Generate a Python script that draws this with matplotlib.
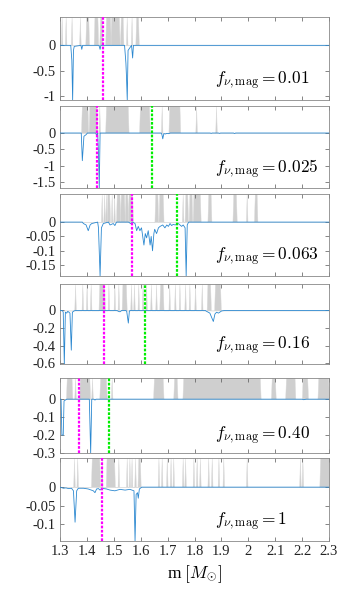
import numpy as np
import matplotlib
matplotlib.use('Agg')
import matplotlib.pyplot as plt

plt.rcParams['font.family'] = ['Liberation Serif', 'DejaVu Serif']
plt.rcParams['mathtext.fontset'] = 'cm'
plt.rcParams['axes.unicode_minus'] = False

# f_nu,mag value of each panel
f_labels = ['0.01', '0.025', '0.063', '0.16', '0.40', '1']

# blue curves: mass points and values
m_1 = [1.30, 1.340, 1.344, 1.347, 1.350, 1.353, 1.378, 1.381, 1.384, 1.445, 1.449, 1.452,
       1.540, 1.545, 1.547, 1.550, 1.553, 1.566, 1.570, 1.573, 2.30]
v_1 = [0, 0, -0.3, -1.08, -0.1, -0.02, 0, -0.08, 0, 0, -0.08, 0,
       0, -0.35, -0.6, -1.08, -0.1, 0, -0.25, 0, 0]

m_2 = [1.30, 1.379, 1.383, 1.389, 1.397, 1.402, 1.433, 1.436, 1.440, 1.443, 1.446, 1.449,
       1.676, 1.679, 1.682, 1.686, 1.692, 1.698, 1.704, 1.710, 1.858, 1.862, 1.866,
       1.889, 1.893, 1.897, 1.945, 1.949, 1.953, 2.30]
v_2 = [0, 0, -0.85, -0.1, -0.05, 0, 0, -0.08, 0, -0.6, -1.69, 0,
       0, -0.05, -0.18, -0.02, -0.03, -0.01, -0.02, 0, 0, -0.01, 0,
       0, -0.01, 0, 0, -0.015, 0, 0]

m_3 = [1.30, 1.383, 1.387, 1.397, 1.405, 1.412, 1.418, 1.440, 1.443, 1.449, 1.454, 1.461,
       1.480, 1.486, 1.498, 1.504, 1.510, 1.555, 1.562, 1.570, 1.579, 1.585, 1.591, 1.597,
       1.603, 1.612, 1.617, 1.622, 1.628, 1.635, 1.639, 1.644, 1.649, 1.652, 1.659, 1.666,
       1.672, 1.682, 1.690, 1.697, 1.703, 1.709, 1.715, 1.721, 1.728, 1.740, 1.752, 1.758,
       1.765, 1.769, 1.773, 1.778, 2.30]
v_3 = [0, 0, -0.005, -0.01, -0.03, -0.01, -0.005, 0, -0.02, -0.188, -0.02, -0.005,
       0, -0.01, -0.005, -0.012, 0, 0, -0.005, 0, -0.005, -0.03, -0.015, -0.03,
       -0.02, -0.08, -0.04, -0.055, -0.03, -0.08, -0.05, -0.1, -0.04, -0.025, -0.04, -0.02,
       -0.015, -0.01, -0.02, -0.01, -0.015, -0.005, -0.012, -0.008, -0.01, -0.005, -0.015, -0.01,
       -0.02, -0.188, -0.01, 0, 0]

m_4 = [1.30, 1.309, 1.312, 1.316, 1.320, 1.325, 1.329, 1.337, 1.342, 1.346, 1.352, 1.360,
       1.512, 1.517, 1.523, 1.529, 1.545, 1.548, 1.554, 1.558, 1.562,
       1.840, 1.845, 1.857, 1.870, 1.876, 1.882, 1.889, 1.901, 1.913, 2.30]
v_4 = [0, 0, -0.02, -0.607, -0.02, -0.03, -0.01, -0.03, -0.45, -0.02, -0.005, 0,
       0, -0.01, -0.015, 0, 0, -0.01, -0.143, -0.005, 0,
       0, -0.01, -0.03, -0.125, -0.04, -0.02, -0.03, -0.005, 0, 0]

m_5 = [1.30, 1.304, 1.307, 1.312, 1.315, 1.325, 1.409, 1.414, 1.418, 1.426, 1.430, 1.434,
       2.200, 2.206, 2.215, 2.30]
v_5 = [0, 0, -0.2, -0.2, -0.01, 0, 0, -0.3, 0, 0, -0.005, 0,
       0, -0.003, 0, 0]

m_6 = [1.30, 1.313, 1.322, 1.332, 1.343, 1.350, 1.356, 1.362, 1.368, 1.387, 1.405, 1.424,
       1.430, 1.436, 1.443, 1.449, 1.455, 1.473, 1.486, 1.504, 1.523, 1.542, 1.560, 1.575,
       1.579, 1.583, 1.588, 1.591, 1.595, 1.604, 2.30]
v_6 = [0, -0.003, -0.002, -0.004, -0.003, -0.01, -0.095, -0.01, -0.003, -0.003, -0.005, -0.01,
       -0.015, -0.005, -0.004, -0.008, -0.003, -0.005, -0.008, -0.01, -0.006, -0.008, -0.006, -0.01,
       -0.146, -0.02, -0.015, -0.03, -0.005, 0, 0]

# grey bands (start, end) in mass
grey_1 = [(1.306, 1.306), (1.321, 1.321), (1.343, 1.343), (1.374, 1.374), (1.397, 1.405),
          (1.428, 1.439), (1.449, 1.455), (1.471, 1.486), (1.490, 1.519), (1.526, 1.533),
          (1.548, 1.548), (1.566, 1.566), (1.583, 1.590)]
grey_2 = [(1.381, 1.402), (1.409, 1.436), (1.446, 1.446), (1.471, 1.552), (1.597, 1.631),
          (1.678, 1.678), (1.706, 1.744), (1.806, 1.806), (1.880, 1.880)]
grey_3 = [(1.455, 1.455), (1.464, 1.464), (1.471, 1.471), (1.476, 1.483), (1.492, 1.492),
          (1.501, 1.501), (1.511, 1.521), (1.526, 1.538), (1.543, 1.550), (1.555, 1.568),
          (1.654, 1.662), (1.669, 1.682), (1.756, 1.756), (1.766, 1.773), (1.781, 1.789),
          (1.796, 1.820), (1.851, 1.860), (1.944, 1.954), (1.994, 1.994), (2.024, 2.031)]
grey_4 = [(1.356, 1.356), (1.383, 1.383), (1.399, 1.399), (1.414, 1.414), (1.446, 1.464),
          (1.480, 1.480), (1.502, 1.502), (1.517, 1.517), (1.532, 1.545), (1.564, 1.564),
          (1.575, 1.575), (1.591, 1.591), (1.607, 1.607), (1.620, 1.620), (1.638, 1.638),
          (1.657, 1.657), (1.672, 1.682), (1.706, 1.706), (1.727, 1.727), (1.744, 1.744),
          (1.765, 1.765), (1.781, 1.781), (1.802, 1.802), (1.827, 1.827), (1.848, 1.858),
          (1.876, 1.895)]
grey_5 = [(1.325, 1.343), (1.356, 1.356), (1.374, 1.409), (1.419, 1.419), (1.449, 1.471),
          (1.492, 1.492), (1.649, 1.682), (1.724, 1.734), (1.758, 2.043), (2.087, 2.099),
          (2.140, 2.172), (2.202, 2.219), (2.260, 2.297)]
grey_6 = [(1.352, 1.352), (1.364, 1.364), (1.418, 1.446), (1.455, 1.455), (1.473, 1.501),
          (1.517, 1.517), (1.548, 1.548), (1.558, 1.558), (1.566, 1.566), (1.579, 1.579),
          (1.591, 1.597), (1.666, 1.666), (1.678, 1.678), (1.697, 1.697), (1.711, 1.711),
          (1.721, 1.721), (1.756, 1.756), (1.765, 1.765), (1.796, 1.796), (1.808, 1.808),
          (1.820, 1.820), (1.851, 1.851), (1.864, 1.864), (1.889, 1.889), (1.907, 1.907),
          (1.994, 1.994), (2.192, 2.192), (2.201, 2.201), (2.267, 2.300)]

# vertical markers (None = not drawn)
magenta_m = [1.461, 1.436, 1.569, 1.465, 1.369, 1.456]
green_m = [None, 1.643, 1.736, 1.617, 1.481, None]

# y ticks / limits per panel
yticks = [[0, -0.5, -1], [0, -0.5, -1, -1.5], [0, -0.05, -0.1, -0.15],
          [0, -0.2, -0.4, -0.6], [0, -0.1, -0.2, -0.3], [0, -0.05, -0.1]]
ylims = [(-1.08, 0.56), (-1.69, 0.83), (-0.188, 0.098), (-0.607, 0.30),
         (-0.30, 0.118), (-0.146, 0.079)]

xticks = [1.3, 1.4, 1.5, 1.6, 1.7, 1.8, 1.9, 2.0, 2.1, 2.2, 2.3]
xticklabels = ['1.3', '1.4', '1.5', '1.6', '1.7', '1.8', '1.9', '2', '2.1', '2.2', '2.3']

curves_m = [m_1, m_2, m_3, m_4, m_5, m_6]
curves_v = [v_1, v_2, v_3, v_4, v_5, v_6]
greys = [grey_1, grey_2, grey_3, grey_4, grey_5, grey_6]

# panel pixel extents (top, bottom)
W, H = 354, 589
panels_px = [(17, 100), (106, 188), (194, 276), (284, 364), (378, 453), (458, 541)]
left_px, right_px = 60, 329

fig = plt.figure(figsize=(W / 100, H / 100), dpi=100)


def grey_shape(spans, d=0.003):
    xs = [1.3]
    hs = [0]
    for a, b in spans:
        xs += [a - d, a, b, b + d]
        hs += [0, 1, 1, 0]
    xs.append(2.3)
    hs.append(0)
    return np.clip(xs, 1.3, 2.3), np.array(hs, dtype=float)


for i in range(6):
    top, bot = panels_px[i]
    ax = fig.add_axes([left_px / W, 1 - bot / H, (right_px - left_px) / W, (bot - top) / H])
    lo, hi = ylims[i]

    gx, gh = grey_shape(greys[i])
    ax.fill_between(gx, 0, gh * hi, color='#cfcfcf', lw=0.3, edgecolor='#dadada', zorder=1)

    ax.plot(curves_m[i], curves_v[i], color='#2b88d0', lw=0.6, zorder=3)

    ls = (0, (1.2, 0.7))
    ax.axvline(magenta_m[i], color='#ff00ff', lw=1.6, ls=ls, zorder=4)
    if green_m[i] is not None:
        ax.axvline(green_m[i], color='#00ee00', lw=1.6, ls=ls, zorder=4)

    ax.text(0.576, 0.23, r'$f_{\nu,\mathrm{mag}} = ' + f_labels[i] + '$',
            transform=ax.transAxes, fontsize=12.5, ha='left', va='center')

    ax.set_xlim(1.3, 2.3)
    ax.set_ylim(lo, hi)
    ax.set_yticks(yticks[i])
    ax.set_yticklabels([('%g' % t) for t in yticks[i]])
    ax.set_xticks(xticks)
    if i == 5:
        ax.set_xticklabels(xticklabels)
        ax.set_xlabel(r'm $[M_{\odot}]$', fontsize=12.5, labelpad=4)
    else:
        ax.set_xticklabels([])
    ax.tick_params(direction='in', top=True, right=True, length=3, width=0.5,
                   colors='#555555', labelcolor='#222222', labelsize=10.5, pad=3)
    for s in ax.spines.values():
        s.set_color('#888888')
        s.set_linewidth(0.6)

fig.savefig('out.png', dpi=100)
